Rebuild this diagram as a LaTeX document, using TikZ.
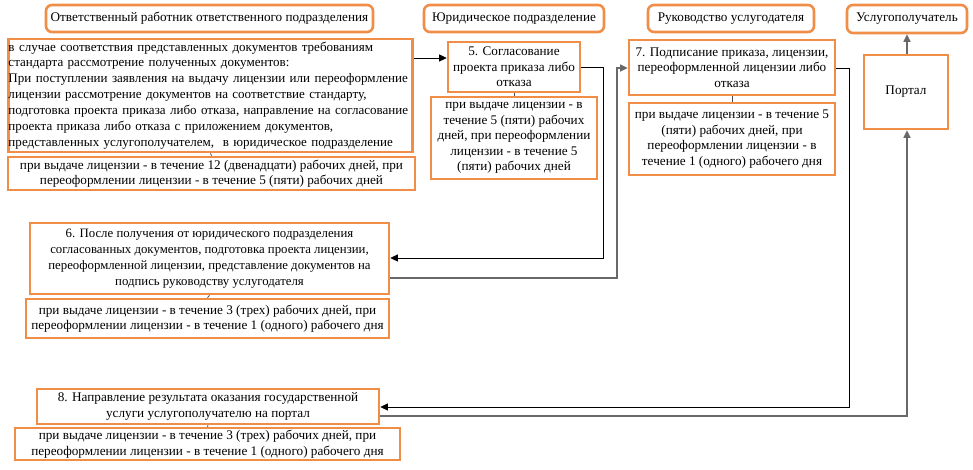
\documentclass[tikz,border=0pt]{standalone}
\usepackage{fontspec}
\setmainfont{Liberation Serif}
\usetikzlibrary{arrows.meta}
\definecolor{boxor}{RGB}{240,142,72}
\definecolor{linegray}{RGB}{105,105,105}
\newcommand{\fsA}{\fontsize{13.05}{15.9}\selectfont}
\newcommand{\fsB}{\fontsize{13.2}{15.6}\selectfont}
\newcommand{\fsC}{\fontsize{12.8}{16}\selectfont}
\tikzset{
  obox/.style={draw=boxor, line width=2.6pt, fill=white, inner sep=2pt, align=center, font=\fsB},
  hbox/.style={obox, rounded corners=6pt},
  link/.style={draw=black, line width=0.8pt},
  glink/.style={draw=linegray, line width=1.4pt},
  tick/.style={draw=black!70, line width=0.8pt},
  arr/.style={-{Triangle[length=7.5pt,width=7pt]}}
}
\begin{document}
\begin{tikzpicture}[x=1pt,y=-1pt]
\useasboundingbox (0,0) rectangle (973,470);
% headers
\node[hbox, minimum width=327pt, minimum height=27pt] (H1) at (209.5,18.5) {Ответственный работник ответственного подразделения};
\node[hbox, minimum width=180pt, minimum height=27pt] (H2) at (514,18.5) {Юридическое подразделение};
\node[hbox, minimum width=166pt, minimum height=27pt] (H3) at (731,18.5) {Руководство услугодателя};
\node[hbox, minimum width=120pt, minimum height=28pt] (H4) at (907,19) {Услугополучатель};
% box A
\node[obox, text width=404pt, minimum height=113pt, inner sep=0pt, align=left, font=\fsA] (A) at (210.5,95.5) {\vbox{%
\hbox to\hsize{в случае соответствия представленных документов требованиям}%
\hbox to\hsize{стандарта рассмотрение полученных документов:\hfil}%
\hbox to\hsize{При поступлении заявления на выдачу лицензии или переоформление}%
\hbox to\hsize{лицензии рассмотрение документов на соответствие стандарту,}%
\hbox to\hsize{подготовка проекта приказа либо отказа, направление на согласование}%
\hbox to\hsize{проекта приказа либо отказа с приложением документов,}%
\hbox to\hsize{представленных услугополучателем,\ \ в юридическое подразделение\hfil}}};
\node[obox, minimum width=407pt, minimum height=33pt] (TA) at (211.5,173.5) {при выдаче лицензии - в течение 12 (двенадцати) рабочих дней, при\\переоформлении лицензии - в течение 5 (пяти) рабочих дней};
% box 5
\node[obox, minimum width=132pt, minimum height=50pt] (B5) at (514,67) {5. Согласование\\проекта приказа либо\\отказа};
\node[obox, minimum width=166pt, minimum height=82pt] (T5) at (514,138) {при выдаче лицензии - в\\течение 5 (пяти) рабочих\\дней, при переоформлении\\лицензии - в течение 5\\(пяти) рабочих дней};
% box 7
\node[obox, minimum width=206pt, minimum height=55pt] (B7) at (732,67.5) {7. Подписание приказа, лицензии,\\переоформленной лицензии либо\\отказа};
\node[obox, minimum width=206pt, minimum height=72pt] (T7) at (732,139) {при выдаче лицензии - в течение 5\\(пяти) рабочих дней, при\\переоформлении лицензии - в\\течение 1 (одного) рабочего дня};
% portal
\node[obox, minimum width=84pt, minimum height=74pt] (P) at (906,92) {Портал};
% box 6
\node[obox, minimum width=359pt, minimum height=71pt, font=\fsC] (B6) at (209.5,258.5) {6. После получения от юридического подразделения\\согласованных документов, подготовка проекта лицензии,\\переоформленной лицензии, представление документов на\\подпись руководству услугодателя};
\node[obox, minimum width=363pt, minimum height=39pt] (T6) at (207.5,318.5) {при выдаче лицензии - в течение 3 (трех) рабочих дней, при\\переоформлении лицензии - в течение 1 (одного) рабочего дня};
% box 8
\node[obox, minimum width=342pt, minimum height=35pt] (B8) at (208,406.5) {8. Направление результата оказания государственной\\услуги услугополучателю на портал};
\node[obox, minimum width=385pt, minimum height=32pt] (T8) at (207.5,444) {при выдаче лицензии - в течение 3 (трех) рабочих дней, при\\переоформлении лицензии - в течение 1 (одного) рабочего дня};
% ticks between boxes
\draw[tick] (A.south) -- (TA.north);
\draw[tick] (B5.south) -- (T5.north);
\draw[tick] (B7.south) -- (T7.north);
\draw[tick] (B6.south) -- (T6.north);
\draw[tick] (B8.south) -- (T8.north);
% connectors
\coordinate (yA) at (0,58);
\draw[link,arr] (A.east |- yA) -- (B5.west |- yA);
\coordinate (c5a) at (603,67);
\coordinate (c5b) at (603,258);
\draw[link,arr] (B5.east |- c5a) -- (c5a) -- (c5b) -- (B6.east |- c5b);
\coordinate (c6a) at (617,278);
\coordinate (c6b) at (617,68);
\draw[glink,arr] (B6.east |- c6a) -- (c6a) -- (c6b) -- (B7.west |- c6b);
\coordinate (c7a) at (849,68);
\coordinate (c7b) at (849,407);
\draw[link,arr] (B7.east |- c7a) -- (c7a) -- (c7b) -- (B8.east |- c7b);
\coordinate (c8) at (907,416);
\draw[glink,arr] (B8.east |- c8) -- (c8) -- (P.south -| c8);
\draw[glink,arr] (P.north -| c8) -- (H4.south -| c8);
\end{tikzpicture}
\end{document}
